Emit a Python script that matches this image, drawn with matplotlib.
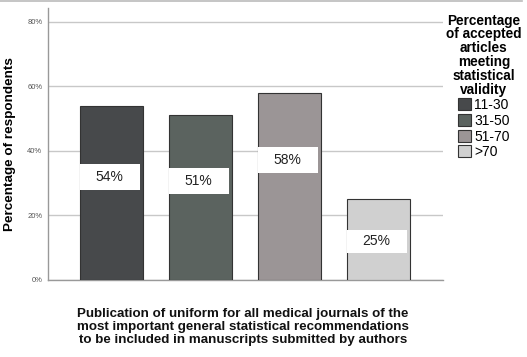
import matplotlib
matplotlib.use("Agg")
import matplotlib.pyplot as plt
from matplotlib.patches import Rectangle
from matplotlib.lines import Line2D

plt.rcParams['font.family'] = ['Liberation Sans', 'DejaVu Sans']

categories = ["11-30", "31-50", "51-70", ">70"]
values = [54, 51, 58, 25]
label_frac = [0.59, 0.60, 0.64, 0.48]
colors = ["#47494b", "#5b635f", "#9b9596", "#d0d0d0"]
yticks = [0, 20, 40, 60, 80]
ytick_labels = ["0%", "20%", "40%", "60%", "80%"]
xlabel = ("Publication of uniform for all medical journals of the\n"
          "most important general statistical recommendations\n"
          "to be included in manuscripts submitted by authors")
ylabel = "Percentage of respondents"
legend_title = "Percentage\nof accepted\narticles\nmeeting\nstatistical\nvalidity"

fig = plt.figure(figsize=(5.27, 3.57), dpi=100)
ax = fig.add_axes([0.091, 0.2157, 0.750, 0.762])

x = list(range(len(values)))
bars = ax.bar(x, values, width=0.71, color=colors, edgecolor="#333333",
              linewidth=0.8, zorder=3)

for b, v, f in zip(bars, values, label_frac):
    yc = v * f
    h = 8 if v > 30 else 7
    ax.add_patch(Rectangle((b.get_x() + 0.005, yc - h / 2), b.get_width() * 0.94, h,
                           facecolor="white", edgecolor="none", zorder=4))
    ax.text(b.get_x() + b.get_width() * 0.47, yc, f"{v}%", ha="center", va="center",
            fontsize=10, color="#222222", zorder=5)

ax.set_xlim(-0.713, 3.73)
ax.set_ylim(0, 84.3)
ax.set_yticks(yticks)
ax.set_yticklabels(ytick_labels)
ax.tick_params(axis='y', length=0, pad=4, labelsize=5.5, labelcolor="#555555")
ax.set_xticks([])
ax.yaxis.grid(True, color="#c8c8c8", linewidth=1, zorder=0)
ax.set_axisbelow(True)
for s in ["top", "right"]:
    ax.spines[s].set_visible(False)
ax.spines["left"].set_color("#999999")
ax.spines["bottom"].set_color("#999999")
ax.spines["left"].set_linewidth(1)
ax.spines["bottom"].set_linewidth(1)

ax.set_ylabel(ylabel, fontsize=9.7, fontweight="bold", labelpad=8)
fig.text(0.461, 0.084, xlabel, ha="center", va="center", fontsize=9.6,
         fontweight="bold", linespacing=1.12, color="#111111")

handles = [Rectangle((0, 0), 1, 1, facecolor=c, edgecolor="#333333", linewidth=0.8)
           for c in colors]
leg = fig.legend(handles, categories, title=legend_title, loc="upper center",
                 bbox_to_anchor=(0.918, 0.985), frameon=False, fontsize=10,
                 title_fontproperties={'weight': 'bold', 'size': 9.8},
                 handlelength=0.95, handleheight=0.95, handletextpad=0.2,
                 labelspacing=0.12, borderpad=0.1)
leg.get_title().set_multialignment("center")
leg.get_title().set_linespacing(0.98)

fig.add_artist(Line2D([0, 0.99], [0.997, 0.997], transform=fig.transFigure,
                      color="#bbbbbb", linewidth=1.2))

fig.savefig("out.png", dpi=100)
